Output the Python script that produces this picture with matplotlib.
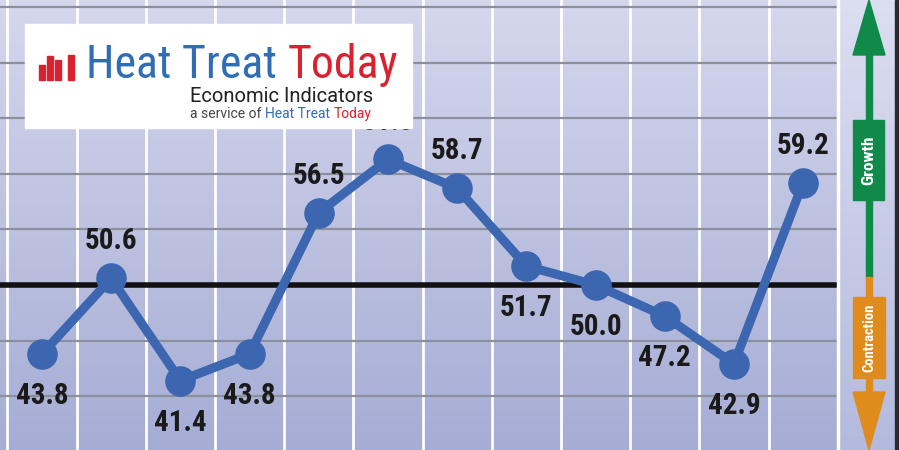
import numpy as np
import matplotlib
matplotlib.use('Agg')
import matplotlib.pyplot as plt
from matplotlib import font_manager
from matplotlib.colors import LinearSegmentedColormap
from matplotlib.patches import Rectangle, Polygon

values = [43.8, 50.6, 41.4, 43.8, 56.5, 61.3, 58.7, 51.7, 50.0, 47.2, 42.9, 59.2]
labels = ['43.8', '50.6', '41.4', '43.8', '56.5', '61.3', '58.7', '51.7', '50.0', '47.2', '42.9', '59.2']
label_side = ['below', 'above', 'below', 'below', 'above', 'above', 'above',
              'below', 'below', 'below', 'below', 'above']
baseline = 50.0

installed = {f.name for f in font_manager.fontManager.ttflist}
def pick(*names):
    for n in names:
        if n in installed:
            return n
    return 'DejaVu Sans'

narrow = pick('Liberation Sans Narrow', 'DejaVu Sans Condensed', 'Roboto Condensed', 'Liberation Sans')
rounded = pick('Roboto', 'Lato', 'Open Sans', 'DejaVu Sans')

fig = plt.figure(figsize=(9, 4.5), dpi=100)
fig.patch.set_facecolor('white')

# main plot area, pixel 0..837 wide
ax = fig.add_axes([0, 0, 837 / 900, 1])
x = np.arange(len(values))
x0, x1 = -0.607, 11.49
y0, y1 = 35.16, 75.63
ax.set_xlim(x0, x1)
ax.set_ylim(y0, y1)

bg = LinearSegmentedColormap.from_list('bg', ['#d5d7ed', '#a6add5'])
ax.imshow(np.linspace(0, 1, 256).reshape(-1, 1), extent=[x0, x1, y0, y1],
          aspect='auto', cmap=bg, origin='upper', zorder=0)

for xv in np.arange(len(values) + 1) - 0.5:
    ax.axvline(xv, color='white', lw=2, zorder=1)
for yv in range(35, 80, 5):
    if yv != baseline:
        ax.axhline(yv, color='#8c909c', lw=1.6, zorder=1)
ax.axhline(baseline, color='#111111', lw=4, zorder=2)

ax.plot(x, values, color='#3d66b0', lw=6.5, marker='o', markersize=21,
        solid_capstyle='round', zorder=3)

for xi, v, lab, side in zip(x, values, labels, label_side):
    dy = 37 if side == 'above' else -42
    ax.annotate(lab, (xi, v), xytext=(0, dy), textcoords='offset pixels',
                ha='center', va='center', fontsize=21, fontweight='bold',
                family=[narrow, 'DejaVu Sans'], color='#1a1a1a', zorder=4)
ax.axis('off')

# overlay for the side scale and logo, in pixel coordinates
ov = fig.add_axes([0, 0, 1, 1])
ov.set_xlim(0, 900)
ov.set_ylim(450, 0)
ov.axis('off')
ov.patch.set_alpha(0)

strip = LinearSegmentedColormap.from_list('strip', ['#dcdef1', '#b4badd'])
ov.imshow(np.linspace(0, 1, 256).reshape(-1, 1), extent=[838, 895, 450, 0],
          aspect='auto', cmap=strip, zorder=0)
ov.plot([837.5, 837.5], [0, 450], color='white', lw=2.5, zorder=1)
ov.add_patch(Rectangle((895, 0), 3, 450, color='#2a2a30', zorder=1))

green = '#0f8a48'
orange = '#e08c1c'
cx = 869
ov.add_patch(Rectangle((cx - 3, 50), 6, 228, color=green, zorder=2))
ov.add_patch(Polygon([(cx - 16, 55), (cx + 16, 55), (cx, 0)], color=green, zorder=2))
ov.add_patch(Rectangle((cx - 3, 277), 6, 120, color=orange, zorder=2))
ov.add_patch(Polygon([(cx - 16, 392), (cx + 16, 392), (cx, 450)], color=orange, zorder=2))
ov.add_patch(Rectangle((cx - 16, 120), 31, 80, color=green, zorder=3))
ov.add_patch(Rectangle((cx - 16, 297), 32, 81, color=orange, zorder=3))
ov.text(cx, 160, 'Growth', rotation=90, ha='center', va='center', color='white',
        fontsize=12.5, fontweight='bold', family=[narrow, 'DejaVu Sans'], zorder=4)
ov.text(cx, 338, 'Contraction', rotation=90, ha='center', va='center', color='white',
        fontsize=10.5, fontweight='bold', family=[narrow, 'DejaVu Sans'], zorder=4)

# logo box
blue = '#2f6db6'
red = '#d8222f'
ov.add_patch(Rectangle((25, 24), 387, 104, color='white', zorder=5))
for bx, top in zip([39, 47, 55, 68], [65, 56, 60, 55]):
    ov.add_patch(Rectangle((bx, top), 6, 80 - top, color=red, zorder=6))
t1 = ov.text(86, 78, 'Heat Treat ', color=blue, fontsize=33, ha='left', va='baseline',
             family=[narrow, 'DejaVu Sans'], zorder=6)
ov.annotate('Today', xy=(1, 0), xycoords=t1, color=red, fontsize=33, ha='left',
            va='bottom', family=[narrow, 'DejaVu Sans'], zorder=6)
ov.text(190, 102, 'Economic Indicators', color='#222222', fontsize=14.5, ha='left',
        va='baseline', family=[rounded, 'DejaVu Sans'], zorder=6)
s1 = ov.text(190, 118, 'a service of ', color='#444444', fontsize=10, ha='left',
             va='baseline', family=[rounded, 'DejaVu Sans'], zorder=6)
s2 = ov.annotate('Heat Treat ', xy=(1, 0), xycoords=s1, color=blue, fontsize=10,
                 ha='left', va='bottom', family=[rounded, 'DejaVu Sans'], zorder=6)
ov.annotate('Today', xy=(1, 0), xycoords=s2, color=red, fontsize=10,
            ha='left', va='bottom', family=[rounded, 'DejaVu Sans'], zorder=6)

fig.savefig('out.png', dpi=100)
